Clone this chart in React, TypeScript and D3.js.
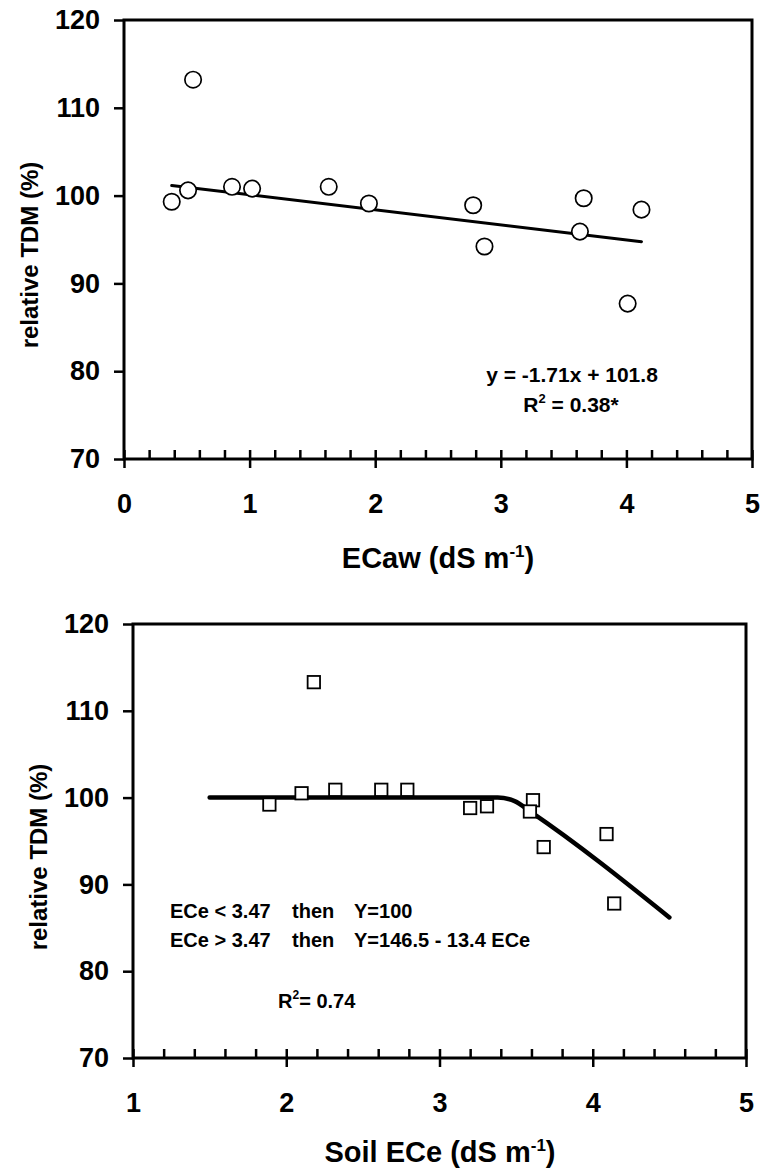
import React, { useEffect, useRef } from "react";
import * as d3 from "d3";

// ECaw panel (circles + linear fit)
const ecawX = [0.38, 0.51, 0.55, 0.86, 1.02, 1.63, 1.95, 2.78, 2.87, 3.63, 3.66, 4.01, 4.12];
const ecawY = [99.3, 100.6, 113.2, 101.0, 100.8, 101.0, 99.1, 98.9, 94.2, 95.9, 99.7, 87.7, 98.4];
const fitX = [0.38, 4.12];
const fitY = [101.15, 94.75];

// Soil ECe panel (squares + broken-line fit)
const eceX = [1.89, 2.1, 2.18, 2.32, 2.62, 2.79, 3.2, 3.31, 3.61, 3.59, 3.68, 4.09, 4.14];
const eceY = [99.2, 100.5, 113.3, 100.9, 100.9, 100.9, 98.8, 99.0, 99.7, 98.4, 94.3, 95.8, 87.8];
const breakX = [1.5, 3.38, 3.49, 3.6, 4.5];
const breakY = [100, 100, 99.6, 98.3, 86.2];

const yTicks = [70, 80, 90, 100, 110, 120];
const ecawTicks = [0, 1, 2, 3, 4, 5];
const eceTicks = [1, 2, 3, 4, 5];

const FONT = "'Liberation Sans', Arial, sans-serif";

type PanelProps = {
  left: number;
  right: number;
  top: number;
  bottom: number;
  xDomain: [number, number];
  xTicks: number[];
  xs: number[];
  ys: number[];
  marker: "circle" | "square";
  lineX: number[];
  lineY: number[];
  lineWidth: number;
  curved: boolean;
};

function Panel(p: PanelProps) {
  const gRef = useRef<SVGGElement>(null);
  const x = d3.scaleLinear().domain(p.xDomain).range([p.left, p.right]);
  const y = d3.scaleLinear().domain([70, 120]).range([p.bottom, p.top]);

  useEffect(() => {
    const g = d3.select(gRef.current);
    g.selectAll("*").remove();

    const minor = d3.range(p.xDomain[0], p.xDomain[1] + 0.001, 0.2).map((v) => +v.toFixed(2));

    const yAxis = g
      .append("g")
      .attr("transform", `translate(${p.left},0)`)
      .call(d3.axisLeft(y).tickValues(yTicks).tickSize(10).tickPadding(14));
    yAxis.select(".domain").remove();

    const xUp = g
      .append("g")
      .attr("transform", `translate(0,${p.bottom})`)
      .call(d3.axisTop(x).tickValues(minor).tickSize(9).tickFormat(() => ""));
    xUp.select(".domain").remove();

    const xAxis = g
      .append("g")
      .attr("transform", `translate(0,${p.bottom})`)
      .call(d3.axisBottom(x).tickValues(p.xTicks).tickSize(9).tickPadding(26).tickFormat(d3.format("d")));
    xAxis.select(".domain").remove();

    g.selectAll(".tick line").attr("stroke", "#000").attr("stroke-width", 2.5);
    g.selectAll(".tick text")
      .attr("fill", "#000")
      .style("font-family", FONT)
      .style("font-size", "27px")
      .style("font-weight", "bold");
  }, []);

  const line = d3
    .line<number>()
    .x((d, i) => x(p.lineX[i]))
    .y((d) => y(d))
    .curve(p.curved ? d3.curveMonotoneX : d3.curveLinear);

  return (
    <g>
      <g ref={gRef} />
      <path
        d={line(p.lineY) || ""}
        fill="none"
        stroke="#000"
        strokeWidth={p.lineWidth}
        strokeLinecap="round"
        strokeLinejoin="round"
      />
      {p.xs.map((v, i) =>
        p.marker === "circle" ? (
          <circle key={i} cx={x(v)} cy={y(p.ys[i])} r={8.2} fill="#fff" stroke="#000" strokeWidth={1.7} />
        ) : (
          <rect
            key={i}
            x={x(v) - 6.2}
            y={y(p.ys[i]) - 6.2}
            width={12.4}
            height={12.4}
            fill="#fff"
            stroke="#000"
            strokeWidth={1.8}
          />
        )
      )}
      <rect
        x={p.left}
        y={p.top}
        width={p.right - p.left}
        height={p.bottom - p.top}
        fill="none"
        stroke="#000"
        strokeWidth={3}
      />
    </g>
  );
}

export default function App() {
  const txt = { fontFamily: FONT, fontWeight: "bold" as const, fill: "#000" };
  return (
    <div style={{ position: "absolute", left: 0, top: 0 }}>
      <svg width={765} height={1173} style={{ display: "block", background: "#fff" }}>
        <Panel
          left={124}
          right={752}
          top={20}
          bottom={459}
          xDomain={[0, 5]}
          xTicks={ecawTicks}
          xs={ecawX}
          ys={ecawY}
          marker="circle"
          lineX={fitX}
          lineY={fitY}
          lineWidth={3}
          curved={false}
        />
        <text transform="translate(38,255) rotate(-90)" textAnchor="middle" fontSize={24} {...txt}>
          relative TDM (%)
        </text>
        <text x={438} y={568} textAnchor="middle" fontSize={29} {...txt}>
          ECaw (dS m<tspan dy={-11} fontSize={17}>-1</tspan>
          <tspan dy={11}>)</tspan>
        </text>
        <text x={572} y={382} textAnchor="middle" fontSize={21} {...txt}>
          y = -1.71x + 101.8
        </text>
        <text x={571} y={412} textAnchor="middle" fontSize={21} {...txt}>
          R<tspan dy={-9} fontSize={13}>2</tspan>
          <tspan dy={9}> = 0.38*</tspan>
        </text>

        <Panel
          left={133}
          right={746}
          top={624}
          bottom={1058}
          xDomain={[1, 5]}
          xTicks={eceTicks}
          xs={eceX}
          ys={eceY}
          marker="square"
          lineX={breakX}
          lineY={breakY}
          lineWidth={4.5}
          curved={true}
        />
        <text transform="translate(47,857) rotate(-90)" textAnchor="middle" fontSize={24} {...txt}>
          relative TDM (%)
        </text>
        <text x={440} y={1162} textAnchor="middle" fontSize={29} {...txt}>
          Soil ECe (dS m<tspan dy={-11} fontSize={17}>-1</tspan>
          <tspan dy={11}>)</tspan>
        </text>
        <text y={918} fontSize={20} {...txt}>
          <tspan x={170}>ECe &lt; 3.47</tspan>
          <tspan x={292}>then</tspan>
          <tspan x={354}>Y=100</tspan>
        </text>
        <text y={947} fontSize={20} {...txt}>
          <tspan x={170}>ECe &gt; 3.47</tspan>
          <tspan x={292}>then</tspan>
          <tspan x={354}>Y=146.5 - 13.4 ECe</tspan>
        </text>
        <text x={278} y={1008} fontSize={20} {...txt}>
          R<tspan dy={-9} fontSize={12}>2</tspan>
          <tspan dy={9}>= 0.74</tspan>
        </text>
      </svg>
    </div>
  );
}
